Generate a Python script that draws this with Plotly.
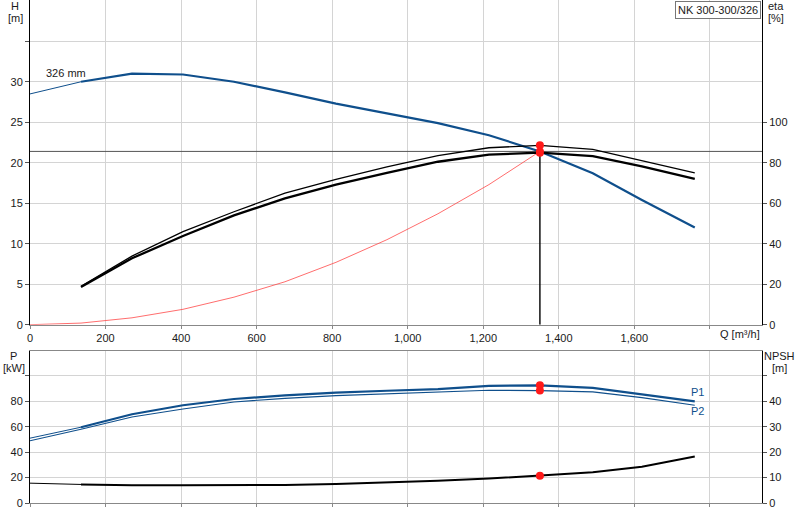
import plotly.graph_objects as go

# ── data ──
Q_PTS = [0, 135, 270, 405, 540, 675, 810, 945, 1080, 1215, 1350, 1490, 1620, 1760]

H_326 = [28.5, 30.0, 31.0, 30.9, 30.0, 28.7, 27.3, 26.1, 24.9, 23.4, 21.4, 18.7, 15.4, 12.0]

Q_ETA = [135, 270, 405, 540, 675, 810, 945, 1080, 1215, 1350, 1490, 1620, 1760]
ETA_UPPER = [19.0, 33.9, 46.0, 55.8, 65.0, 71.8, 78.0, 83.5, 87.4, 88.6, 86.6, 81.2, 75.0]
ETA_LOWER = [18.6, 32.8, 43.8, 54.0, 62.4, 69.2, 75.0, 80.5, 84.0, 85.0, 83.3, 78.2, 72.0]

Q_SYS = [0, 135, 270, 405, 540, 675, 810, 945, 1080, 1215, 1350]
H_SYS = [0.0, 0.2, 0.85, 1.9, 3.4, 5.3, 7.7, 10.5, 13.7, 17.3, 21.4]

P1 = [51.0, 59.6, 69.8, 76.9, 81.8, 84.6, 86.8, 88.3, 89.6, 92.1, 92.6, 90.5, 85.5, 80.0]
P2 = [48.9, 58.0, 67.7, 74.0, 79.5, 82.3, 84.5, 85.8, 87.0, 88.7, 88.4, 87.4, 82.9, 76.9]
NPSH = [7.8, 7.3, 7.0, 7.0, 7.0, 7.1, 7.5, 8.1, 8.8, 9.6, 10.7, 12.1, 14.3, 18.3]

Q_DUTY = 1350
H_DUTY = 21.4
ETA_DUTY = [88.6, 85.0]
P_DUTY = [92.6, 88.4]
NPSH_DUTY = 10.7

X_TICKS = [0, 200, 400, 600, 800, 1000, 1200, 1400, 1600, 1800]
H_TICKS = [0, 5, 10, 15, 20, 25, 30, 35]
ETA_TICKS = [0, 20, 40, 60, 80, 100]
P_TICKS = [0, 20, 40, 60, 80, 100]
NPSH_TICKS = [0, 10, 20, 30, 40, 50]

BLUE = "#0f4f8c"
GRID = "#d4d4d4"
FONT = "Liberation Sans, Arial, sans-serif"

L, R, T, B = 30, 38, 0, 17
W, HGT = 800, 520
PW = W - L - R
PH = HGT - T - B


def px(xp):
    return (xp - L) / PW


def py(yp):
    return (HGT - B - yp) / PH


fig = go.Figure()

# top: head curve (thin start, thick rest)
fig.add_trace(go.Scatter(x=Q_PTS[:2], y=H_326[:2], mode="lines",
                         line=dict(color=BLUE, width=1), xaxis="x", yaxis="y"))
fig.add_trace(go.Scatter(x=Q_PTS[1:], y=H_326[1:], mode="lines",
                         line=dict(color=BLUE, width=2.2), xaxis="x", yaxis="y"))
# system curve
fig.add_trace(go.Scatter(x=Q_SYS, y=H_SYS, mode="lines",
                         line=dict(color="rgba(255,60,60,0.75)", width=1), xaxis="x", yaxis="y"))
# duty point lines
fig.add_trace(go.Scatter(x=[0, 1938], y=[H_DUTY, H_DUTY], mode="lines",
                         line=dict(color="#555555", width=1), xaxis="x", yaxis="y"))
fig.add_trace(go.Scatter(x=[Q_DUTY, Q_DUTY], y=[0, H_DUTY], mode="lines",
                         line=dict(color="black", width=1.4), xaxis="x", yaxis="y"))
# efficiency curves
fig.add_trace(go.Scatter(x=Q_ETA, y=ETA_UPPER, mode="lines",
                         line=dict(color="black", width=1.3), xaxis="x", yaxis="y2"))
fig.add_trace(go.Scatter(x=Q_ETA, y=ETA_LOWER, mode="lines",
                         line=dict(color="black", width=2.3), xaxis="x", yaxis="y2"))
fig.add_trace(go.Scatter(x=[Q_DUTY, Q_DUTY], y=ETA_DUTY, mode="markers",
                         marker=dict(color="#ff1a1a", size=8), xaxis="x", yaxis="y2"))
fig.add_trace(go.Scatter(x=[Q_DUTY], y=[H_DUTY], mode="markers",
                         marker=dict(color="#ff1a1a", size=8), xaxis="x", yaxis="y"))

# bottom: power curves
fig.add_trace(go.Scatter(x=Q_PTS[:2], y=P1[:2], mode="lines",
                         line=dict(color=BLUE, width=1), xaxis="x2", yaxis="y3"))
fig.add_trace(go.Scatter(x=Q_PTS[1:], y=P1[1:], mode="lines",
                         line=dict(color=BLUE, width=2.2), xaxis="x2", yaxis="y3"))
fig.add_trace(go.Scatter(x=Q_PTS, y=P2, mode="lines",
                         line=dict(color=BLUE, width=1.1), xaxis="x2", yaxis="y3"))
fig.add_trace(go.Scatter(x=[Q_DUTY, Q_DUTY], y=P_DUTY, mode="markers",
                         marker=dict(color="#ff1a1a", size=8), xaxis="x2", yaxis="y3"))
# NPSH
fig.add_trace(go.Scatter(x=Q_PTS[:2], y=NPSH[:2], mode="lines",
                         line=dict(color="black", width=1), xaxis="x2", yaxis="y4"))
fig.add_trace(go.Scatter(x=Q_PTS[1:], y=NPSH[1:], mode="lines",
                         line=dict(color="black", width=2), xaxis="x2", yaxis="y4"))
fig.add_trace(go.Scatter(x=[Q_DUTY], y=[NPSH_DUTY], mode="markers",
                         marker=dict(color="#ff1a1a", size=8), xaxis="x2", yaxis="y4"))

xcommon = dict(range=[0, 1938], tickvals=X_TICKS, showgrid=True, gridcolor=GRID,
               gridwidth=1, zeroline=False, showline=True, linecolor="#888888",
               mirror=True, ticks="outside", ticklen=3, tickcolor="#888888")

top_dom = [py(324.7), 1.0]
bot_dom = [0.0, py(350.7)]

fig.update_layout(
    width=W, height=HGT,
    margin=dict(l=L, r=R, t=T, b=B),
    plot_bgcolor="white", paper_bgcolor="white",
    showlegend=False,
    font=dict(family=FONT, size=11, color="#1a1a1a"),
    xaxis=dict(xcommon, anchor="y", domain=[0, 1],
               ticktext=["0", "200", "400", "600", "800", "1,000", "1,200", "1,400", "1,600", ""]),
    yaxis=dict(domain=top_dom, range=[0, 40.1], tickvals=H_TICKS,
               ticktext=[str(v) for v in H_TICKS[:-1]] + [""],
               showgrid=True, gridcolor=GRID, zeroline=False, showline=True,
               linecolor="black", ticks="outside", ticklen=4, tickcolor="#555555"),
    yaxis2=dict(overlaying="y", side="right", anchor="x", range=[0, 160.4],
                tickvals=ETA_TICKS, showgrid=False, zeroline=False, showline=True,
                linecolor="black", ticks="outside", ticklen=4, tickcolor="#555555"),
    xaxis2=dict(xcommon, anchor="y3", domain=[0, 1], showticklabels=False),
    yaxis3=dict(domain=bot_dom, range=[0, 119.8], tickvals=P_TICKS,
                ticktext=[str(v) for v in P_TICKS[:-1]] + [""],
                showgrid=True, gridcolor=GRID, zeroline=False, showline=True,
                linecolor="black", ticks="outside", ticklen=4, tickcolor="#555555"),
    yaxis4=dict(overlaying="y3", side="right", anchor="x2", range=[0, 59.9],
                tickvals=NPSH_TICKS, ticktext=[str(v) for v in NPSH_TICKS[:-1]] + [""],
                showgrid=False, zeroline=False, showline=True, linecolor="black",
                ticks="outside", ticklen=4, tickcolor="#555555"),
)


def label(text, xp, yp, **kw):
    fig.add_annotation(text=text, x=px(xp), y=py(yp), xref="paper", yref="paper",
                       showarrow=False, xanchor=kw.pop("xanchor", "center"),
                       yanchor="middle", **kw)


label("H", 15, 6)
label("[m]", 15, 18)
label("eta", 776, 6)
label("[%]", 776, 18)
label("P", 13, 356)
label("[kW]", 14, 368)
label("NPSH", 780, 356)
label("[m]", 780, 368)
label("Q [m³/h]", 740, 334)
label("326 mm", 66, 73)
label("P1", 697, 392, font=dict(color=BLUE))
label("P2", 697, 411, font=dict(color=BLUE))

fig.add_annotation(text="NK 300-300/326", x=px(761), y=py(1), xref="paper", yref="paper",
                   showarrow=False, xanchor="right", yanchor="top",
                   bgcolor="white", bordercolor="#777777", borderwidth=1, borderpad=2,
                   font=dict(size=11))

# page body has a default 8px margin; drop it so the chart sits at the window corner
fig.write_html("out.html", config={"displayModeBar": False},
               post_script="document.body.style.margin='0';")
